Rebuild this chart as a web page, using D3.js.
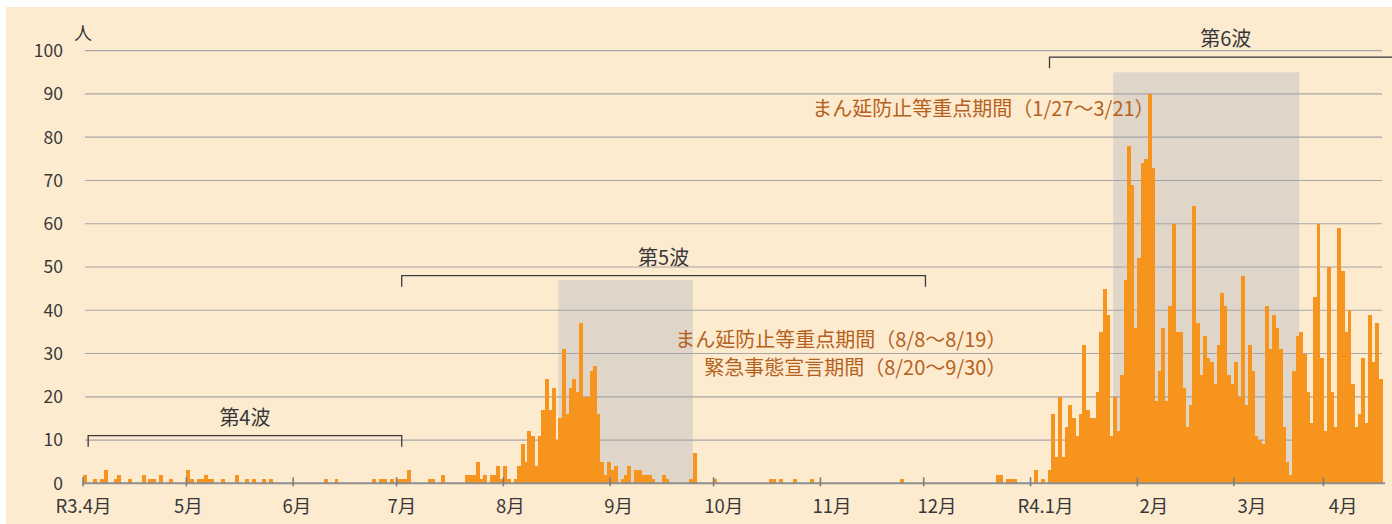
<!doctype html>
<html>
  <head>
    <meta charset="utf-8">
    <script src="https://cdnjs.cloudflare.com/ajax/libs/d3/7.8.5/d3.min.js"></script>
    <style>
      body { margin: 0; background: #fff; }
      text {
        font-family: "Noto Sans CJK JP", "Noto Sans", sans-serif;
        fill: #383838;
      }
      .grid line { stroke: #a6a6a6; stroke-width: 1.2px; }
      .bar { fill: #f7941d; shape-rendering: crispEdges; }
      .shade { fill: #dfd5c8; }
      .bracket { fill: none; stroke: #3a3a3a; stroke-width: 1.3px; }
      .note { fill: #b5611d; font-size: 20px; text-anchor: end; }
    </style>
  </head>
  <body>
    <svg width="1392" height="524"></svg>

    <script>
      // daily counts, one array per month (first entry = day 1)
      var apr21 = [2,0,0,1,0,1,3,0,0,1,2,0,0,1,0,0,0,2,0,1,1,0,2,0,0,1,0,0,0,0];
      var may21 = [3,1,0,1,1,2,1,1,0,0,1,0,0,0,2,0,0,1,0,1,0,0,1,0,1,0,0,0,0,0,0];
      var jun21 = [0,0,0,0,0,0,0,0,0,1,0,0,1,0,0,0,0,0,0,0,0,0,0,1,0,1,1,0,1,0];
      var jul21 = [1,1,1,3,0,0,0,0,0,1,1,0,0,2,0,0,0,0,0,0,2,2,2,5,1,2,0,2,2,4,1];
      var aug21 = [4,1,0,1,4,9,5,12,11,4,11,17,24,17,22,10,15,31,16,22,24,21,37,20,20,26,27,16,5,2,5];
      var sep21 = [3,4,0,1,2,4,0,3,3,2,2,2,1,0,0,2,1,0,0,0,0,0,0,1,7,0,0,0,0,0];
      var oct21 = [1,0,0,0,0,0,0,0,0,0,0,0,0,0,0,0,1,1,0,1,0,0,0,1,0,0,0,0,1,0,0];
      var nov21 = [0,0,0,0,0,0,0,0,0,0,0,0,0,0,0,0,0,0,0,0,0,0,0,1,0,0,0,0,0,0];
      var dec21 = [0,0,0,0,0,0,0,0,0,0,0,0,0,0,0,0,0,0,0,0,0,2,2,0,1,1,1,0,0,0,0];
      var jan22 = [0,3,0,1,0,3,16,6,20,6,13,18,15,11,16,32,17,15,15,21,35,45,39,11,20,12,25,47,78,69,36];
      var feb22 = [52,74,75,90,73,19,26,36,19,41,60,35,35,22,13,18,64,37,25,34,29,28,23,32,44,41,25,23];
      var mar22 = [28,20,48,18,32,26,11,10,9,41,31,39,36,31,13,5,2,26,34,35,30,21,14,43,60,29];
      var apr22 = [12,50,21,13,59,49,35,40,23,13,16,29,14,39,28,37,24];

      var monthKeys = ["2021-04","2021-05","2021-06","2021-07","2021-08","2021-09",
                       "2021-10","2021-11","2021-12","2022-01","2022-02","2022-03","2022-04"];
      var monthLabels = ["R3.4月","5月","6月","7月","8月","9月","10月","11月","12月",
                         "R4.1月","2月","3月","4月"];
      var monthValues = [apr21, may21, jun21, jul21, aug21, sep21, oct21, nov21, dec21,
                         jan22, feb22, mar22, apr22];
      var yTicks = [0,10,20,30,40,50,60,70,80,90,100];

      // waves (第n波) and restriction periods
      var waveLabels = ["第4波", "第5波", "第6波"];
      var waveStart = ["2021-04-02", "2021-07-02", "2022-01-06"];
      var waveEnd = ["2021-07-02", "2021-12-01", null];
      var periodStart = ["2021-08-17", "2022-01-25"];
      var periodEnd = ["2021-09-24", "2022-03-19"];
      var periodTop = [47, 95];
      var noteLines = [
        ["まん延防止等重点期間（8/8〜8/19）", "緊急事態宣言期間（8/20〜9/30）"],
        ["まん延防止等重点期間（1/27〜3/21）"]
      ];

      var pad = n => (n < 10 ? "0" : "") + n;
      var data = [];
      monthValues.forEach((vals, m) => {
        vals.forEach((v, i) => data.push({ date: monthKeys[m] + "-" + pad(i + 1), value: v }));
      });

      var W = 1392, H = 524;
      var svg = d3.select("svg");

      var x = d3.scaleBand()
        .domain(data.map(d => d.date))
        .range([83, 1382]);
      var y = d3.scaleLinear().domain([0, 100]).range([483.3, 50.7]);
      var bw = x.bandwidth();

      // background panel
      svg.append("rect")
        .attr("x", 6).attr("y", 7)
        .attr("width", W - 6).attr("height", H - 7)
        .attr("fill", "#fdebd0");

      // shaded periods
      svg.append("g").selectAll("rect")
        .data(periodStart)
        .enter()
        .append("rect")
          .attr("class", "shade")
          .attr("x", d => x(d))
          .attr("y", (d, i) => y(periodTop[i]))
          .attr("width", (d, i) => x(periodEnd[i]) + bw - x(d))
          .attr("height", (d, i) => y(0) - y(periodTop[i]));

      // gridlines
      svg.append("g")
        .attr("class", "grid")
        .selectAll("line")
        .data(yTicks.filter(t => t > 0))
        .enter()
        .append("line")
          .attr("x1", 85).attr("x2", 1382)
          .attr("y1", d => y(d)).attr("y2", d => y(d));

      // bars
      svg.append("g")
        .selectAll("rect")
        .data(data.filter(d => d.value > 0))
        .enter()
        .append("rect")
          .attr("class", "bar")
          .attr("x", d => x(d.date))
          .attr("y", d => y(d.value))
          .attr("width", bw + 0.5)
          .attr("height", d => y(0) - y(d.value));

      // baseline + month ticks
      svg.append("line")
        .attr("x1", 83).attr("x2", 1385)
        .attr("y1", y(0)).attr("y2", y(0))
        .attr("stroke", "#8e8e8e").attr("stroke-width", 2);

      svg.append("g")
        .selectAll("line")
        .data(monthKeys)
        .enter()
        .append("line")
          .attr("x1", d => x(d + "-01")).attr("x2", d => x(d + "-01"))
          .attr("y1", y(0) - 6).attr("y2", y(0) + 3)
          .attr("stroke", "#7d7d7d").attr("stroke-width", 1.6);

      // month labels (the original drifts slightly right of the ticks)
      svg.append("g")
        .selectAll("text")
        .data(monthKeys)
        .enter()
        .append("text")
          .attr("x", (d, i) => x(d + "-01") + 0.5 + i * 1.6)
          .attr("y", 513)
          .attr("text-anchor", "middle")
          .style("font-size", "18.5px")
          .text((d, i) => monthLabels[i]);

      // y labels
      svg.append("g")
        .selectAll("text")
        .data(yTicks)
        .enter()
        .append("text")
          .attr("x", 63)
          .attr("y", d => y(d))
          .attr("dy", "0.36em")
          .attr("text-anchor", "end")
          .style("font-size", "17.5px")
          .text(d => d);

      svg.append("text")
        .attr("x", 83).attr("y", 40)
        .attr("text-anchor", "middle")
        .style("font-size", "18px")
        .text("人");

      // wave brackets
      var waveLevel = [11, 48, 98.5];
      waveLabels.forEach((lab, i) => {
        var x0 = x(waveStart[i]) + bw / 2;
        var x1 = waveEnd[i] ? x(waveEnd[i]) + bw / 2 : W + 10;
        var yy = y(waveLevel[i]);
        var path = "M" + x0 + "," + (yy + 11) + "V" + yy + "H" + x1;
        if (waveEnd[i]) path += "V" + (yy + 11);
        svg.append("path").attr("class", "bracket").attr("d", path);
        svg.append("text")
          .attr("x", (x0 + x1) / 2)
          .attr("y", yy - 11)
          .attr("text-anchor", "middle")
          .style("font-size", "20px")
          .text(lab);
      });

      // period notes (anchored on the day where the text ends)
      var noteAnchor = ["2021-12-25", "2022-02-06"];
      var noteBase = [31.5, 84.8];
      noteLines.forEach((lines, i) => {
        svg.append("text")
          .attr("class", "note")
          .attr("x", x(noteAnchor[i]))
          .attr("y", y(noteBase[i]))
          .selectAll("tspan")
          .data(lines)
          .enter()
          .append("tspan")
            .attr("x", x(noteAnchor[i]))
            .attr("dy", (d, j) => j ? 28 : 0)
            .text(d => d);
      });
    </script>
  </body>
</html>
